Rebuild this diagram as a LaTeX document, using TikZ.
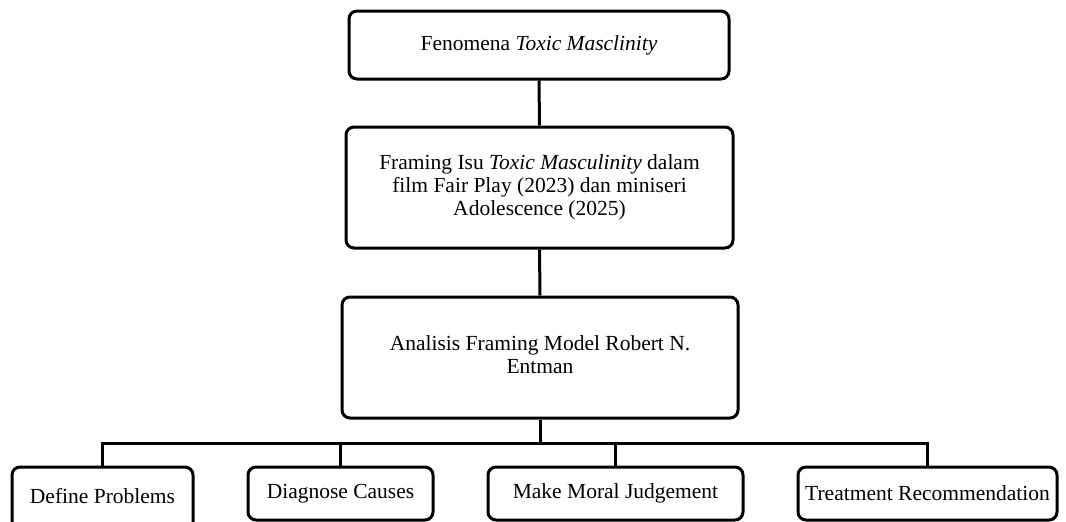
\documentclass[tikz,border=0pt]{standalone}
\usepackage{fontspec}
\setmainfont{Liberation Serif}
\begin{document}
\begin{tikzpicture}[x=1pt,y=-1pt,
  box/.style={draw=black, line width=3pt, rounded corners=8pt, align=center, inner sep=0pt,
    font=\fontsize{21.5}{23}\selectfont},
  conn/.style={draw=black, line width=3pt}]
\clip (0,0) rectangle (1066,522);
\fill[white] (0,0) rectangle (1066,522);
\node[box, minimum width=380pt, minimum height=68pt] (b1) at (539,45) {Fenomena \textit{Toxic Masclinity}};
\node[box, minimum width=387pt, minimum height=121pt] (b2) at (539.5,187.5)
  {Framing Isu \textit{Toxic Masculinity} dalam\\film Fair Play (2023) dan miniseri\\Adolescence (2025)};
\node[box, minimum width=396pt, minimum height=121pt, text depth=5pt] (b3) at (540,357.5)
  {Analisis Framing Model Robert N.\\Entman};
\node[box, minimum width=181pt, minimum height=64pt, text depth=6pt] (c1) at (102.5,499) {Define Problems};
\node[box, minimum width=185pt, minimum height=53pt] (c2) at (340.5,493.5) {Diagnose Causes};
\node[box, minimum width=255pt, minimum height=53pt] (c3) at (615.5,493.5) {Make Moral Judgement};
\node[box, minimum width=259pt, minimum height=53pt] (c4) at (927.5,493.5) {Treatment Recommendation};
\coordinate (bus) at (540,443);
\draw[conn] (b1.south) -- (b2.north);
\draw[conn] (b2.south) -- (b3.north);
\draw[conn] (b3.south) -- (bus);
\draw[conn] (c1.north) |- (bus);
\draw[conn] (c4.north) |- (bus);
\draw[conn] (c2.north) -- (c2.north |- bus);
\draw[conn] (c3.north) -- (c3.north |- bus);
\end{tikzpicture}
\end{document}
